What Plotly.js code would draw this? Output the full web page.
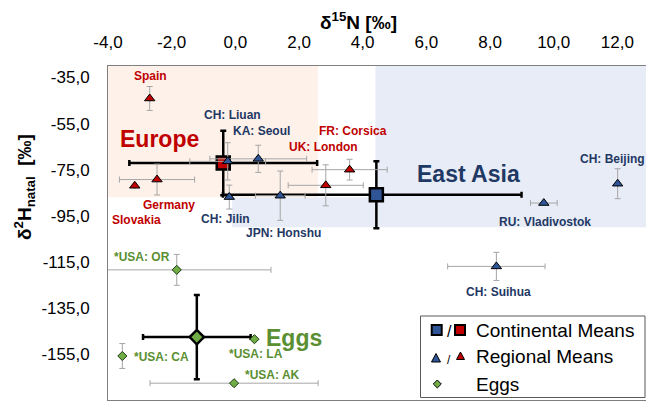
<!DOCTYPE html>
<html>
<head>
<meta charset="utf-8">
<script src="https://cdn.plot.ly/plotly-3.0.1.min.js"></script>
<style>html,body{margin:0;padding:0;background:#fff;}#chart{width:646px;height:408px;}</style>
</head>
<body>
<div id="chart"></div>
<script>
// ---- data ----
const continentNames = ["Europe", "East Asia", "Eggs"];
const continentN = [-0.38, 4.43, -1.21];
const continentH = [-72.1, -85.9, -147.7];
const continentNErrPlus = [2.95, 4.56, 1.69];
const continentNErrMinus = [2.95, 4.82, 1.69];
const continentHErr = [14.0, 14.5, 18.3];

const europeNames = ["Spain", "Slovakia", "Germany", "UK: London", "FR: Corsica"];
const europeN = [-2.69, -3.16, -2.46, 2.84, 3.59];
const europeH = [-44.1, -82.0, -79.3, -81.8, -75.0];
const europeNErr = [0, 0, 1.18, 1.18, 1.18];
const europeHErr = [5.2, 0, 6.7, 8.9, 4.5];

const asiaNames = ["CH: Liuan", "KA: Seoul", "CH: Jilin", "JPN: Honshu", "RU: Vladivostok", "CH: Beijing", "CH: Suihua"];
const asiaN = [-0.24, 0.72, -0.19, 1.41, 9.69, 12.01, 8.20];
const asiaH = [-71.4, -70.3, -86.9, -86.3, -89.5, -81.1, -117.0];
const asiaNErr = [1.19, 1.52, 0, 0.78, 0.42, 0, 1.53];
const asiaHErr = [8.1, 5.9, 5.2, 10.7, 0, 6.5, 6.1];

const eggNames = ["*USA: OR", "*USA: CA", "*USA: LA", "*USA: AK"];
const eggN = [-1.84, -3.55, 0.60, -0.04];
const eggH = [-118.5, -155.9, -148.6, -167.7];
const eggNErr = [2.96, 0, 0, 2.64];
const eggHErr = [6.7, 5.4, 0, 0];

const xTickVals = [-4, -2, 0, 2, 4, 6, 8, 10, 12];
const xTickText = ["-4,0", "-2,0", "0,0", "2,0", "4,0", "6,0", "8,0", "10,0", "12,0"];
const yTickVals = [-35, -55, -75, -95, -115, -135, -155, -175];
const yTickText = ["-35,0", "-55,0", "-75,0", "-95,0", "-115,0", "-135,0", "-155,0", "-175,0"];

// ---- styles ----
const RED = "#c00000", BLUE = "#2f5597", NAVY = "#1f3864", GREEN = "#70ad47", GTEXT = "#5a8f32";
const FONT = "Liberation Sans, Arial, sans-serif";
const grayErr = (arr) => ({type: "data", array: arr, color: "#a6a6a6", thickness: 1, width: 3});

const traces = [
  {
    type: "scatter", mode: "markers", name: "Continental Means",
    x: continentN, y: continentH, hoverinfo: "skip",
    error_x: {type: "data", symmetric: false, array: continentNErrPlus, arrayminus: continentNErrMinus, color: "#000", thickness: 2.5, width: 3},
    error_y: {type: "data", array: continentHErr, color: "#000", thickness: 2.5, width: 3},
    marker: {symbol: ["square", "square", "diamond"], size: [13, 13, 11], opacity: 1, color: [RED, BLUE, GREEN], line: {color: "#000", width: 2.5}}
  },
  {
    type: "scatter", mode: "markers", name: "Europe",
    x: europeN, y: europeH, hoverinfo: "skip",
    error_x: grayErr(europeNErr), error_y: grayErr(europeHErr),
    marker: {symbol: "triangle-up", size: 9, opacity: 1, color: RED, line: {color: "#000", width: 1}}
  },
  {
    type: "scatter", mode: "markers", name: "East Asia",
    x: asiaN, y: asiaH, hoverinfo: "skip",
    error_x: grayErr(asiaNErr), error_y: grayErr(asiaHErr),
    marker: {symbol: "triangle-up", size: 9, opacity: 1, color: BLUE, line: {color: "#000", width: 1}}
  },
  {
    type: "scatter", mode: "markers", name: "Eggs",
    x: eggN, y: eggH, hoverinfo: "skip",
    error_x: grayErr(eggNErr), error_y: grayErr(eggHErr),
    marker: {symbol: "diamond", size: 7, opacity: 1, color: GREEN, line: {color: "#1a3a10", width: 1}}
  }
];

// ---- annotations ----
function lab(text, x, y, color, size) {
  return {text: text, x: x, y: y, xref: "x", yref: "y", showarrow: false,
          font: {family: FONT, size: size || 12, color: color, weight: "bold"}, xanchor: "center", yanchor: "middle"};
}
const annotations = [
  lab(europeNames[0], -2.68, -34.4, RED),
  lab("Europe", -2.37, -61.5, RED, 23),
  lab(asiaNames[0], -0.09, -51.1, NAVY),
  lab(asiaNames[1], 0.81, -58.0, NAVY),
  lab(europeNames[4], 3.70, -58.3, RED),
  lab(europeNames[3], 2.78, -65.3, RED),
  lab(europeNames[2], -2.09, -90.2, RED),
  lab(europeNames[1], -3.09, -96.7, RED),
  lab(asiaNames[2], -0.30, -96.4, NAVY),
  lab(asiaNames[3], 1.50, -102.5, NAVY),
  lab("East Asia", 7.33, -76.9, NAVY, 23),
  lab(asiaNames[5], 11.86, -70.3, NAVY),
  lab(asiaNames[4], 9.72, -97.7, NAVY),
  lab(asiaNames[6], 8.28, -127.9, NAVY),
  lab(eggNames[0], -2.92, -113.0, GTEXT),
  lab("Eggs", 1.85, -148.2, GTEXT, 23),
  lab(eggNames[1], -2.33, -156.4, GTEXT),
  lab(eggNames[2], 0.66, -155.1, GTEXT),
  lab(eggNames[3], 1.16, -164.1, GTEXT)
];

// pixel -> paper helpers for titles / legend decoration
const ML = 108, MT = 66, PW = 538, PH = 334;
const px = (v) => (v - ML) / PW;
const py = (v) => 1 - (v - MT) / PH;

annotations.push({text: "δ<sup>15</sup>N [‰]", xref: "paper", yref: "paper", x: px(358), y: py(21),
  showarrow: false, font: {family: FONT, size: 19, color: "#000", weight: "bold"}, xanchor: "center", yanchor: "middle"});
annotations.push({text: "δ<sup>2</sup>H<sub>natal</sub>  [‰]", xref: "paper", yref: "paper", x: px(24), y: py(187),
  textangle: -90, showarrow: false, font: {family: FONT, size: 19, color: "#000", weight: "bold"}, xanchor: "center", yanchor: "middle"});

// legend texts
const legendItems = ["Continental Means", "Regional Means", "Eggs"];
const legendY = [330, 356.7, 384];
legendItems.forEach((t, i) => annotations.push({text: t, xref: "paper", yref: "paper", x: px(474), y: py(legendY[i]),
  showarrow: false, xanchor: "left", yanchor: "middle", font: {family: FONT, size: 19, color: "#000"}}));
annotations.push({text: "/", xref: "paper", yref: "paper", x: px(449), y: py(331), showarrow: false,
  xanchor: "center", yanchor: "middle", font: {family: FONT, size: 16, color: "#000"}});
annotations.push({text: "/", xref: "paper", yref: "paper", x: px(449), y: py(360), showarrow: false,
  xanchor: "center", yanchor: "middle", font: {family: FONT, size: 12, color: "#000"}});

// ---- shapes: shaded regions (data coords) + legend decoration (paper) ----
const shapes = [
  {type: "rect", xref: "x", yref: "y", x0: -4.5, x1: 2.6, y0: -87, y1: -25, fillcolor: "#fdf1ea", line: {width: 0}, layer: "below"},
  {type: "rect", xref: "x", yref: "y", x0: 4.4, x1: 13.5, y0: -100, y1: -25, fillcolor: "#e8ecf6", line: {width: 0}, layer: "below"},
  {type: "rect", xref: "x", yref: "y", x0: -0.1, x1: 4.4, y0: -100, y1: -87, fillcolor: "#e8ecf6", line: {width: 0}, layer: "below"},
  {type: "rect", xref: "paper", yref: "paper", x0: px(420.5), x1: px(645), y0: py(397.5), y1: py(316),
   fillcolor: "rgba(0,0,0,0)", line: {color: "#595959", width: 1}, layer: "above"}
];
function sq(cx, cy, s, fill) {
  return {type: "rect", xref: "paper", yref: "paper", x0: px(cx - s / 2), x1: px(cx + s / 2), y0: py(cy + s / 2), y1: py(cy - s / 2),
          fillcolor: fill, line: {color: "#000", width: 2}, layer: "above"};
}
function poly(pts, fill, lw) {
  const d = pts.map((p, i) => (i ? "L" : "M") + px(p[0]).toFixed(5) + "," + py(p[1]).toFixed(5)).join(" ") + " Z";
  return {type: "path", xref: "paper", yref: "paper", path: d, fillcolor: fill, line: {color: "#000", width: lw}, layer: "above"};
}
shapes.push(sq(436.7, 330, 10, BLUE));
shapes.push(sq(460, 330, 10, RED));
shapes.push(poly([[431.5, 362], [440.5, 362], [436, 353.5]], BLUE, 1));
shapes.push(poly([[456.5, 359.5], [464.5, 359.5], [460.5, 352]], RED, 1));
shapes.push(poly([[433.3, 384], [437.3, 380], [441.3, 384], [437.3, 388]], GREEN, 1));

const layout = {
  width: 646, height: 408,
  margin: {l: ML, r: 0, t: MT, b: 408 - MT - PH},
  paper_bgcolor: "#fff", plot_bgcolor: "#fff",
  showlegend: false,
  font: {family: FONT, color: "#000"},
  xaxis: {range: [-4, 12.9], side: "top", tickvals: xTickVals, ticktext: xTickText,
          showgrid: false, zeroline: false, showline: true, mirror: true, linecolor: "#7f7f7f", linewidth: 1,
          ticks: "", ticklabelstandoff: 10, tickfont: {family: FONT, size: 17, color: "#000"}},
  yaxis: {range: [-175, -30], tickvals: yTickVals, ticktext: yTickText,
          showgrid: false, zeroline: false, showline: true, mirror: true, linecolor: "#7f7f7f", linewidth: 1,
          ticks: "", ticklabelstandoff: 14, tickfont: {family: FONT, size: 17, color: "#000"}},
  annotations: annotations,
  shapes: shapes
};

Plotly.newPlot("chart", traces, layout, {staticPlot: true, displayModeBar: false});
</script>
</body>
</html>
